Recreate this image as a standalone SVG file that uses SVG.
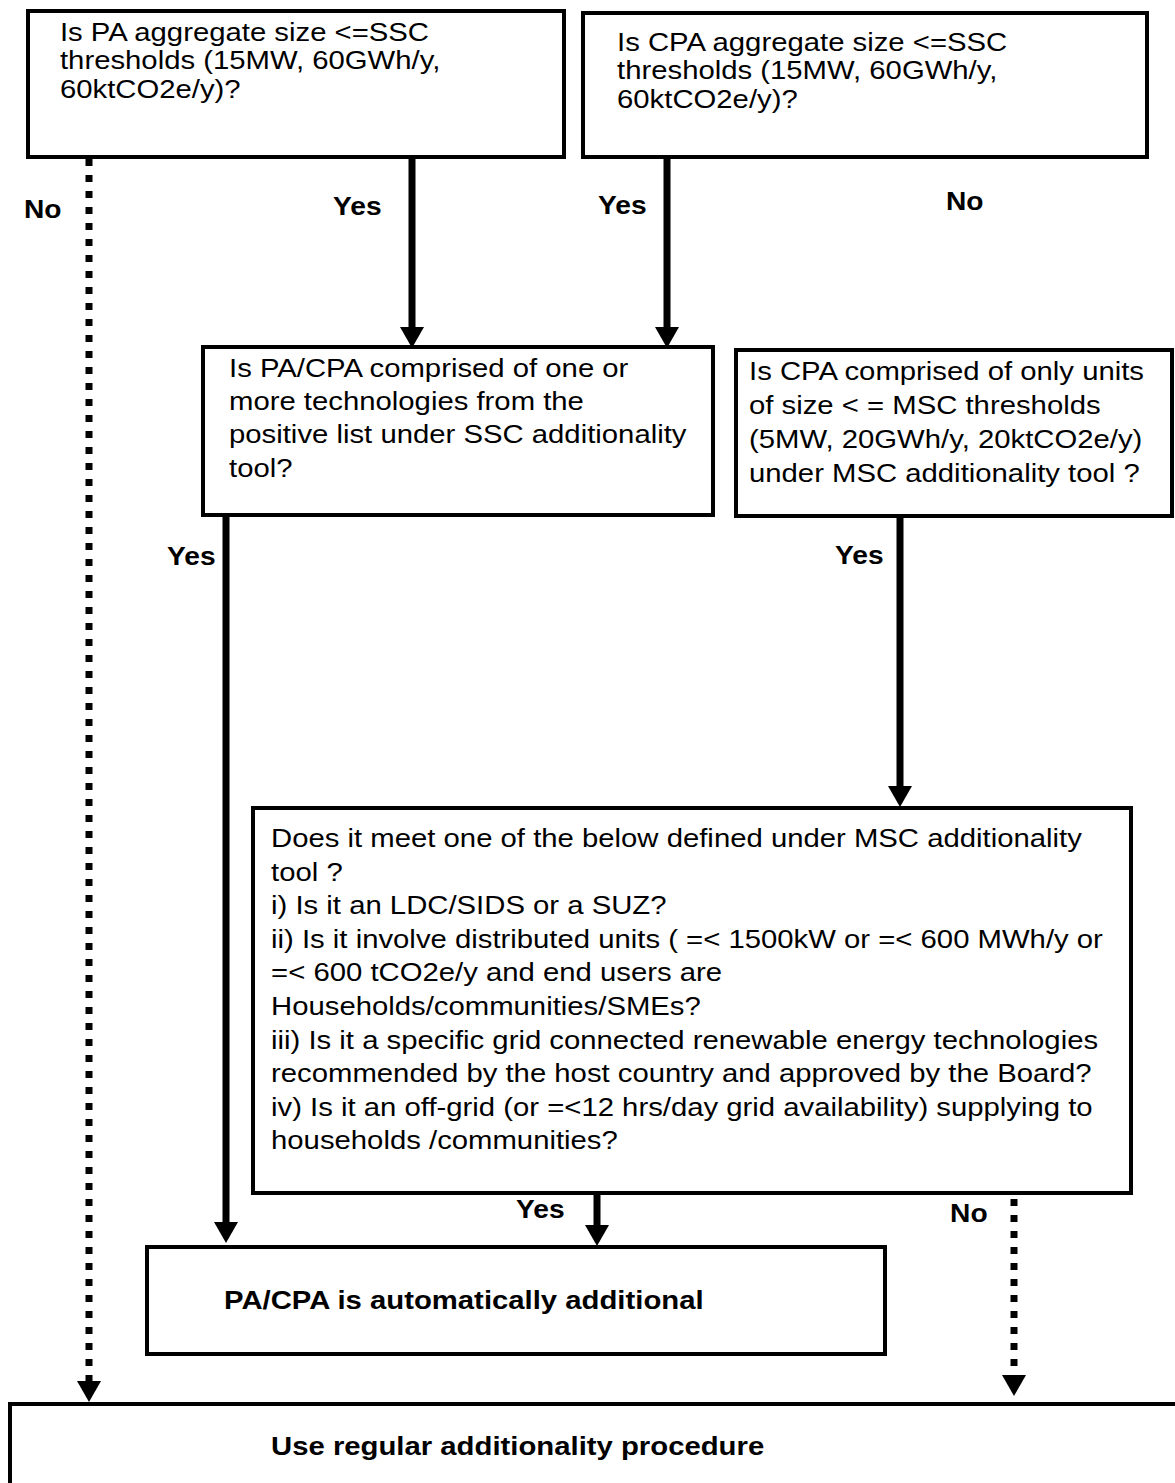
<svg xmlns="http://www.w3.org/2000/svg" width="1175" height="1483" viewBox="0 0 1175 1483">
<style>
.box{fill:#fff;stroke:#000;stroke-width:4}
.t{font-family:"Liberation Sans",Arial,sans-serif;font-size:26px;fill:#000}
.b{font-family:"Liberation Sans",Arial,sans-serif;font-size:26px;font-weight:bold;fill:#000}
.lb{font-family:"Liberation Sans",Arial,sans-serif;font-size:25px;font-weight:bold;fill:#000}
.solid{stroke:#000;stroke-width:7;fill:none;marker-end:url(#ah)}
.dot{stroke:#000;stroke-width:7;fill:none;stroke-dasharray:7 9;marker-end:url(#ah)}
</style>
<defs>
<marker id="ah" markerUnits="userSpaceOnUse" viewBox="0 -12 21 24" refX="0" refY="0" markerWidth="21" markerHeight="24" orient="auto">
<path d="M0,-12 L21,0 L0,12 z" fill="#000"/>
</marker>
</defs>
<rect width="1175" height="1483" fill="#fff"/>
<g id="connectors">
<line class="solid" x1="412" y1="157" x2="412" y2="327"/>
<line class="solid" x1="667" y1="157" x2="667" y2="327"/>
<line class="solid" x1="226" y1="515" x2="226" y2="1222"/>
<line class="solid" x1="900" y1="517" x2="900" y2="786"/>
<line class="solid" x1="597" y1="1193" x2="597" y2="1225"/>
<line class="dot" x1="89" y1="159" x2="89" y2="1381"/>
<line class="dot" x1="1014" y1="1199" x2="1014" y2="1375"/>
<g transform="scale(1.127,1)">
<text class="lb" x="21.3" y="218">No</text>
<text class="lb" x="295.5" y="215">Yes</text>
<text class="lb" x="530.6" y="214">Yes</text>
<text class="lb" x="839.4" y="210">No</text>
<text class="lb" x="148.2" y="565">Yes</text>
<text class="lb" x="740.9" y="564">Yes</text>
<text class="lb" x="457.9" y="1218">Yes</text>
<text class="lb" x="843" y="1222">No</text>
</g>
</g>
<g id="pa-size">
<rect class="box" x="28" y="11" width="536" height="146"/>
<text class="t" transform="scale(1.127,1)"><tspan x="53.2" y="41">Is PA aggregate size &lt;=SSC</tspan><tspan x="53.2" y="69.5">thresholds (15MW, 60GWh/y,</tspan><tspan x="53.2" y="98">60ktCO2e/y)?</tspan></text>
</g>
<g id="cpa-size">
<rect class="box" x="583" y="13" width="564" height="144"/>
<text class="t" transform="scale(1.127,1)"><tspan x="547.5" y="51">Is CPA aggregate size &lt;=SSC</tspan><tspan x="547.5" y="79.5">thresholds (15MW, 60GWh/y,</tspan><tspan x="547.5" y="108">60ktCO2e/y)?</tspan></text>
</g>
<g id="positive-list">
<rect class="box" x="203" y="347" width="510" height="168"/>
<text class="t" transform="scale(1.127,1)"><tspan x="203.2" y="377">Is PA/CPA comprised of one or</tspan><tspan x="203.2" y="410">more technologies from the</tspan><tspan x="203.2" y="443.5">positive list under SSC additionality</tspan><tspan x="203.2" y="477">tool?</tspan></text>
</g>
<g id="msc-units">
<rect class="box" x="736" y="350" width="436" height="166"/>
<text class="t" transform="scale(1.127,1)"><tspan x="664.6" y="380">Is CPA comprised of only units</tspan><tspan x="664.6" y="414">of size &lt; = MSC thresholds</tspan><tspan x="664.6" y="448">(5MW, 20GWh/y, 20ktCO2e/y)</tspan><tspan x="664.6" y="482">under MSC additionality tool ?</tspan></text>
</g>
<g id="msc-criteria">
<rect class="box" x="253" y="808" width="878" height="385"/>
<text class="t" transform="scale(1.127,1)"><tspan x="240.5" y="847">Does it meet one of the below defined under MSC additionality</tspan><tspan x="240.5" y="880.6">tool ?</tspan><tspan x="240.5" y="914.2">i) Is it an LDC/SIDS or a SUZ?</tspan><tspan x="240.5" y="947.8">ii) Is it involve distributed units ( =&lt; 1500kW or =&lt; 600 MWh/y or</tspan><tspan x="240.5" y="981.4">=&lt; 600 tCO2e/y and end users are</tspan><tspan x="240.5" y="1015">Households/communities/SMEs?</tspan><tspan x="240.5" y="1048.6">iii) Is it a specific grid connected renewable energy technologies</tspan><tspan x="240.5" y="1082.2">recommended by the host country and approved by the Board?</tspan><tspan x="240.5" y="1115.8">iv) Is it an off-grid (or =&lt;12 hrs/day grid availability) supplying to</tspan><tspan x="240.5" y="1149.4">households /communities?</tspan></text>
</g>
<g id="auto-additional">
<rect class="box" x="147" y="1247" width="738" height="107"/>
<text class="b" transform="scale(1.127,1)" x="198.8" y="1309">PA/CPA is automatically additional</text>
</g>
<g id="regular-procedure">
<rect class="box" x="10" y="1404" width="1200" height="120"/>
<text class="b" transform="scale(1.127,1)" x="240.5" y="1455">Use regular additionality procedure</text>
</g>
</svg>
